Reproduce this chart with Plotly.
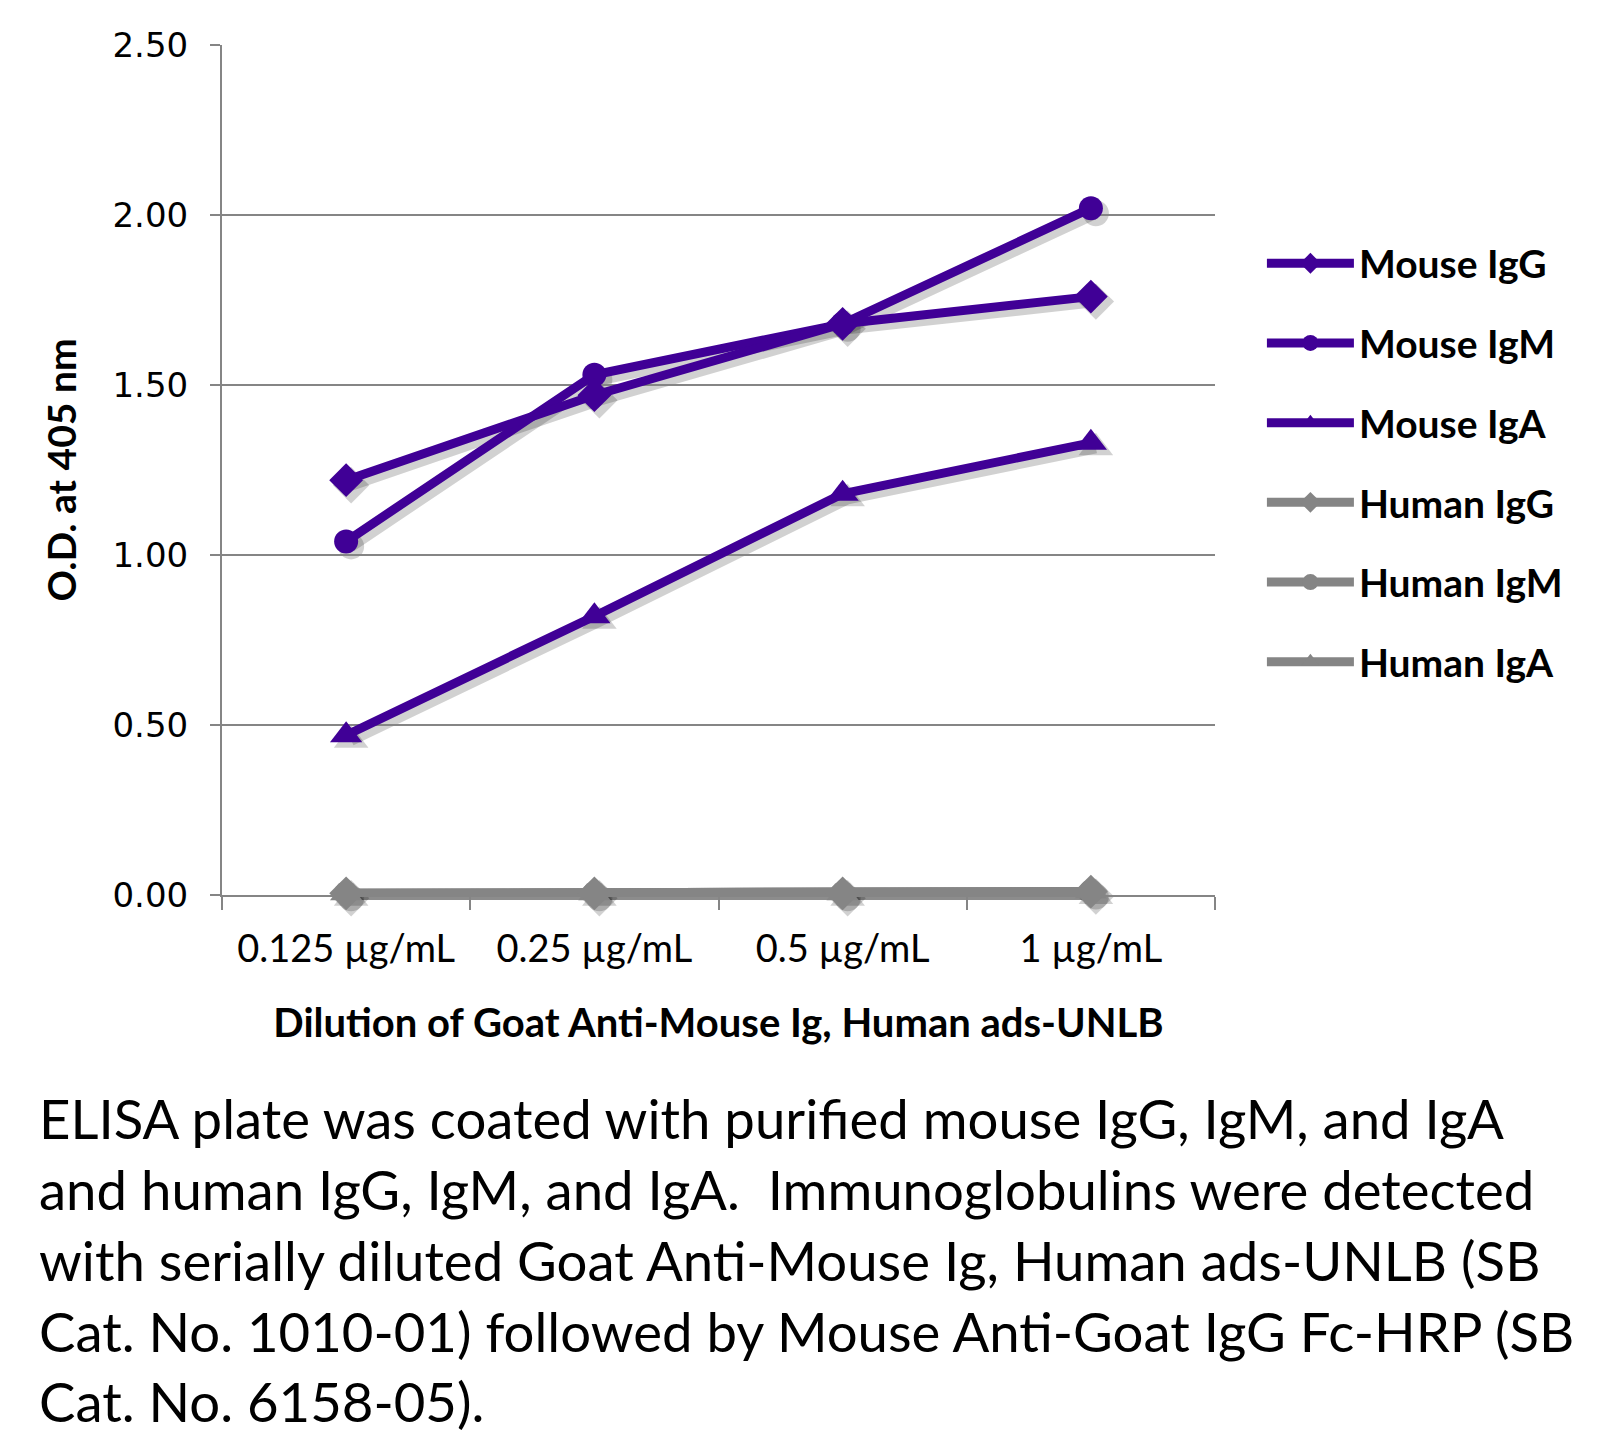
import plotly.graph_objects as go

categories = ["0.125 µg/mL", "0.25 µg/mL", "0.5 µg/mL", "1 µg/mL"]
mouse_igg = [1.22, 1.47, 1.68, 1.76]
mouse_igm = [1.04, 1.53, 1.68, 2.02]
mouse_iga = [0.47, 0.82, 1.18, 1.33]
human_igg = [0.005, 0.005, 0.005, 0.01]
human_igm = [0.005, 0.005, 0.005, 0.01]
human_iga = [0.005, 0.005, 0.005, 0.01]

y_ticks = [0, 0.5, 1.0, 1.5, 2.0, 2.5]
y_ticklabels = ["0.00", "0.50", "1.00", "1.50", "2.00", "2.50"]

PURPLE = "#400096"
GRAY = "#858585"
SHADOW = "rgba(0,0,0,0.18)"

series = [
    ("Mouse IgG", mouse_igg, PURPLE, "diamond", 26),
    ("Mouse IgM", mouse_igm, PURPLE, "circle", 24),
    ("Mouse IgA", mouse_iga, PURPLE, "triangle-up", 28),
    ("Human IgG", human_igg, GRAY, "diamond", 26),
    ("Human IgM", human_igm, GRAY, "circle", 24),
    ("Human IgA", human_iga, GRAY, "triangle-up", 28),
]
names = [s[0] for s in series]

# plot region (union of main + shadow subplot) in figure pixels
W, H = 1620, 1435
ML, MT = 214, 37
DX, DY = 5, 5
PW, PH = 993 + DX, 850 + DY

fig = go.Figure()
# soft drop shadow drawn on an offset subplot (xaxis/yaxis)
for name, vals, color, sym, size in series[::-1]:
    fig.add_trace(go.Scatter(
        x=categories, y=vals, mode="lines+markers", showlegend=False,
        line=dict(color=SHADOW, width=11),
        marker=dict(symbol=sym, size=size + 2, color=SHADOW),
        cliponaxis=False, xaxis="x", yaxis="y", hoverinfo="skip",
    ))
# main series (xaxis2/yaxis2)
for name, vals, color, sym, size in series[::-1]:
    fig.add_trace(go.Scatter(
        x=categories, y=vals, name=name, mode="lines+markers",
        line=dict(color=color, width=9),
        marker=dict(symbol=sym, size=size, color=color),
        cliponaxis=False, legendgroup=name, legendrank=names.index(name),
        xaxis="x2", yaxis="y2",
    ))

caption = ("ELISA plate was coated with purified mouse IgG, IgM, and IgA<br>"
           "and human IgG, IgM, and IgA.  Immunoglobulins were detected<br>"
           "with serially diluted Goat Anti-Mouse Ig, Human ads-UNLB (SB<br>"
           "Cat. No. 1010-01) followed by Mouse Anti-Goat IgG Fc-HRP (SB<br>"
           "Cat. No. 6158-05).")

fig.update_layout(
    width=W, height=H,
    margin=dict(l=ML, r=W - ML - PW, t=MT, b=H - MT - PH),
    paper_bgcolor="white", plot_bgcolor="rgba(0,0,0,0)",
    font=dict(family="Lato, sans-serif", color="black"),
    showlegend=True,
    legend=dict(
        x=1.042, y=0.782, xanchor="left", yanchor="top",
        font=dict(size=39, family="Lato, sans-serif", weight="bold"),
        tracegroupgap=26, itemwidth=87, bgcolor="rgba(0,0,0,0)",
    ),
    xaxis=dict(
        type="category", domain=[DX / PW, 1], range=[-0.5, 3.5],
        visible=False, showgrid=False,
    ),
    yaxis=dict(
        domain=[0, 1 - DY / PH], range=[0, 2.5],
        visible=False, showgrid=False, zeroline=False,
    ),
    xaxis2=dict(
        type="category", domain=[0, 1 - DX / PW], range=[-0.5, 3.5], anchor="y2",
        showgrid=False, showline=True, linecolor=GRAY, linewidth=2,
        ticks="outside", tickson="boundaries", ticklen=13, tickcolor=GRAY, tickwidth=2,
        ticklabelstandoff=19,
        tickfont=dict(size=38, family="Lato, sans-serif"),
        title=dict(text="<b>Dilution of Goat Anti-Mouse Ig, Human ads-UNLB</b>",
                   font=dict(size=40, family="Lato, sans-serif"), standoff=40),
    ),
    yaxis2=dict(
        domain=[DY / PH, 1], range=[0, 2.5], anchor="x2",
        tickvals=y_ticks, ticktext=y_ticklabels,
        showgrid=True, gridcolor=GRAY, gridwidth=2,
        showline=True, linecolor=GRAY, linewidth=2,
        ticks="outside", ticklen=10, tickcolor=GRAY, tickwidth=2,
        ticklabelstandoff=15,
        tickfont=dict(size=34, family="DejaVu Sans, sans-serif"),
        title=dict(text="<b>O.D. at 405 nm</b>",
                   font=dict(size=39, family="Lato, sans-serif"), standoff=24),
        zeroline=False,
    ),
    annotations=[dict(
        text=caption, xref="paper", yref="paper", x=-0.1855, y=-0.2145,
        xanchor="left", yanchor="top", align="left", showarrow=False,
        font=dict(size=54.5, family="Lato, sans-serif", color="black"),
    )],
)

fig.write_html("out.html")
